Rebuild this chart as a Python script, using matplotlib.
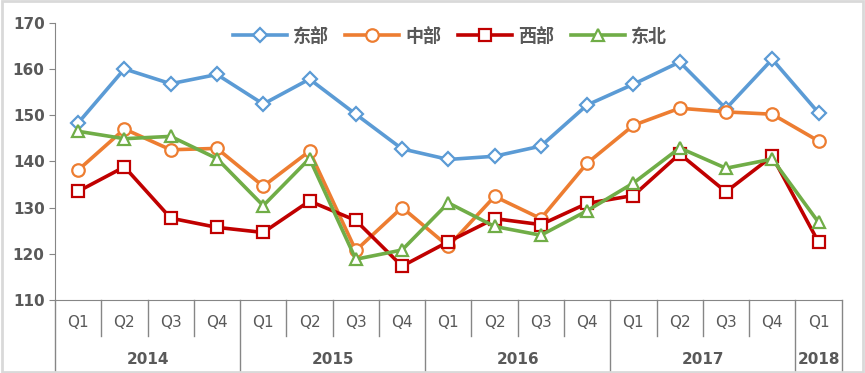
import matplotlib
matplotlib.use('Agg')
import matplotlib.pyplot as plt
from matplotlib.patches import Rectangle
from matplotlib.transforms import blended_transform_factory

plt.rcParams['font.family'] = ['Noto Sans CJK SC', 'DejaVu Sans']

quarters = ['Q1', 'Q2', 'Q3', 'Q4'] * 4 + ['Q1']
years = ['2014', '2015', '2016', '2017', '2018']
year_len = [4, 4, 4, 4, 1]

east = [148.3, 160.0, 156.8, 158.8, 152.4, 157.8, 150.2, 142.7, 140.4, 141.1,
        143.3, 152.2, 156.7, 161.5, 151.4, 162.1, 150.5]
middle = [138.1, 147.0, 142.5, 142.8, 134.6, 142.2, 120.7, 130.0, 121.6, 132.4,
          127.6, 139.6, 147.8, 151.5, 150.7, 150.2, 144.4]
west = [133.5, 138.8, 127.7, 125.7, 124.6, 131.4, 127.2, 117.3, 122.6, 127.6,
        126.3, 130.9, 132.6, 141.6, 133.4, 141.1, 122.5]
northeast = [146.5, 144.9, 145.4, 140.6, 130.4, 140.6, 118.8, 120.8, 131.0, 125.9,
             124.0, 129.3, 135.3, 142.9, 138.5, 140.5, 126.8]

series = [('东部', east, '#5B9BD5', 'D', 7),
          ('中部', middle, '#ED7D31', 'o', 9),
          ('西部', west, '#C00000', 's', 9),
          ('东北', northeast, '#70AD47', '^', 9)]

fig = plt.figure(figsize=(8.65, 3.73), dpi=100)
ax = fig.add_axes([0.0636, 0.196, 0.9094, 0.743])
x = list(range(len(quarters)))
for name, vals, col, mk, ms in series:
    ax.plot(x, vals, color=col, lw=2.6, marker=mk, markersize=ms,
            markerfacecolor='white', markeredgecolor=col, markeredgewidth=1.6,
            label=name)

ax.set_xlim(-0.5, len(quarters) - 0.5)
ax.set_ylim(110, 170)
ax.set_yticks(range(110, 171, 10))
ax.set_xticks([])
for s in ['top', 'right']:
    ax.spines[s].set_visible(False)
ax.spines['left'].set_color('#868686')
ax.spines['bottom'].set_color('#868686')
ax.tick_params(axis='y', colors='#868686', length=4, labelcolor='#595959', labelsize=11)
for lab in ax.get_yticklabels():
    lab.set_fontweight('bold')
    lab.set_family('DejaVu Sans')

# category axis (quarters and years)
tr = blended_transform_factory(ax.transData, ax.transAxes)
q_bot = -0.13
y_bot = -0.26
for i, q in enumerate(quarters):
    ax.text(i, -0.083, q, transform=tr, ha='center', va='center',
            fontsize=11, color='#595959', family='DejaVu Sans')
edges = [-0.5]
for n in year_len:
    edges.append(edges[-1] + n)
for i in range(len(quarters) + 1):
    xe = i - 0.5
    bot = y_bot if xe in edges else q_bot
    ax.plot([xe, xe], [0, bot], transform=tr, color='#868686', lw=1, clip_on=False)
for k, yr in enumerate(years):
    xc = (edges[k] + edges[k + 1]) / 2
    ax.text(xc, -0.216, yr, transform=tr, ha='center', va='center',
            fontsize=11, color='#595959', fontweight='bold', family='DejaVu Sans')

leg = ax.legend(loc='center', bbox_to_anchor=(0.502, 0.952), ncol=4, frameon=False,
                fontsize=13, handlelength=3.0, columnspacing=0.9, handletextpad=0.35,
                borderpad=0)
for t in leg.get_texts():
    t.set_color('#595959')
    t.set_fontweight('bold')

fig.patches.append(Rectangle((0.002, 0.003), 0.996, 0.994, transform=fig.transFigure,
                             fill=False, edgecolor='#D9D9D9', lw=2))

fig.savefig('out.png', dpi=100)
